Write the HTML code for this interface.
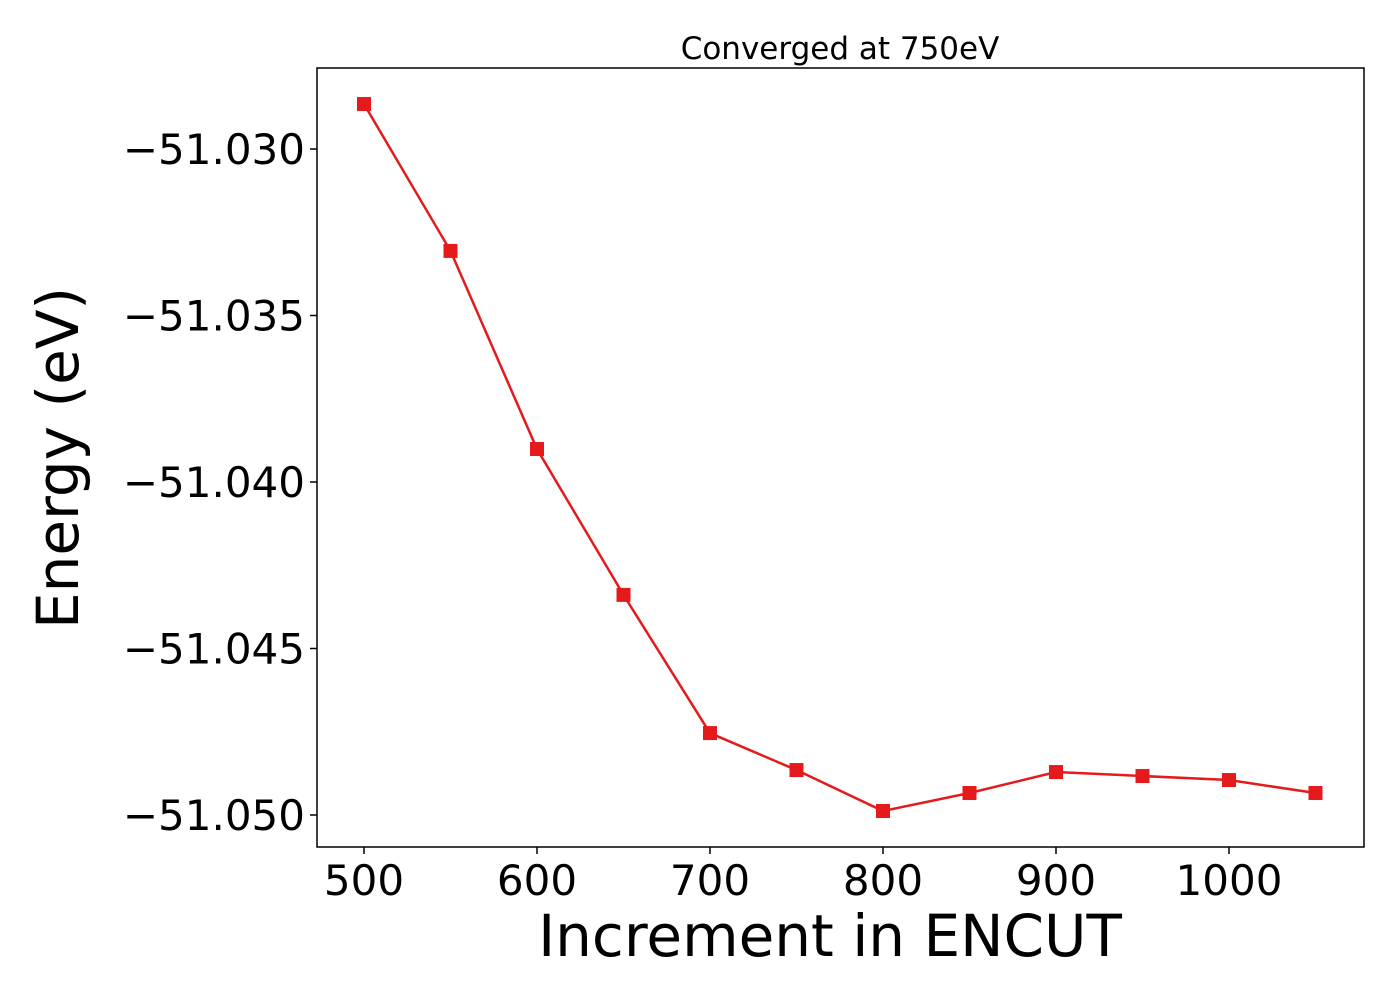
<!DOCTYPE html>
<html><head><meta charset="utf-8"><style>
body{margin:0;background:#fff}
svg{display:block;font-family:"DejaVu Sans","Liberation Sans",sans-serif}
</style></head><body>
<svg id="chart" width="1400" height="1000">
<rect x="0" y="0" width="1400" height="1000" fill="#fff"/>
<g id="grid"></g>
<text x="840" y="59" text-anchor="middle" font-size="31" fill="#000">Converged at 750eV</text>
<text x="830" y="956" text-anchor="middle" font-size="58" fill="#000">Increment in ENCUT</text>
<text transform="translate(78,458) rotate(-90)" text-anchor="middle" font-size="58" fill="#000">Energy (eV)</text>
</svg>
<script>
const xValues = [500,550,600,650,700,750,800,850,900,950,1000,1050];
const energyValues = [-51.02865,-51.03306,-51.03901,-51.04339,-51.04754,-51.04865,-51.04988,-51.04934,-51.04871,-51.04883,-51.04895,-51.04934];
const xTicks = [500,600,700,800,900,1000];
const yTicks = [-51.030,-51.035,-51.040,-51.045,-51.050];
const yTickLabels = ["−51.030","−51.035","−51.040","−51.045","−51.050"];

const L=317,R=1364,T=68,B=847;
function xs(v){return 364+(v-500)*(1229-364)/500;}
function ys(v){return 149+(-51.030-v)*(815-149)/0.02;}
const NS="http://www.w3.org/2000/svg";
const svg=document.getElementById('chart');
function mk(tag,attrs,parent){const e=document.createElementNS(NS,tag);for(const k in attrs)e.setAttribute(k,attrs[k]);(parent||svg).appendChild(e);return e;}

xTicks.forEach(t=>{
  const x=xs(t);
  const l=mk('line',{x1:x,x2:x,y1:B,y2:B+7,stroke:'#000','stroke-width':1.5});
  
  
  const tx=mk('text',{x:x,y:B+48,'text-anchor':'middle','font-size':42,fill:'#000'});
  tx.textContent=t;
  
  
});
yTicks.forEach((t,i)=>{
  const y=ys(t);
  const l=mk('line',{x1:L-7,x2:L,y1:y,y2:y,stroke:'#000','stroke-width':1.5});
  
  
  const tx=mk('text',{x:L-12,y:y+15,'text-anchor':'end','font-size':42,fill:'#000'});
  tx.textContent=yTickLabels[i];
  
  
});
const pts=xValues.map((v,i)=>xs(v)+','+ys(energyValues[i])).join(' ');
const line=mk('polyline',{points:pts,fill:'none',stroke:'#e41a1c','stroke-width':2.5});


xValues.forEach((v,i)=>{
  const r=mk('rect',{x:xs(v)-7,y:ys(energyValues[i])-7,width:14,height:14,fill:'#e41a1c'});
  
  
});
const frame=mk('rect',{x:L,y:T,width:R-L,height:B-T,fill:'none',stroke:'#000','stroke-width':1.5});


</script>
</body></html>
